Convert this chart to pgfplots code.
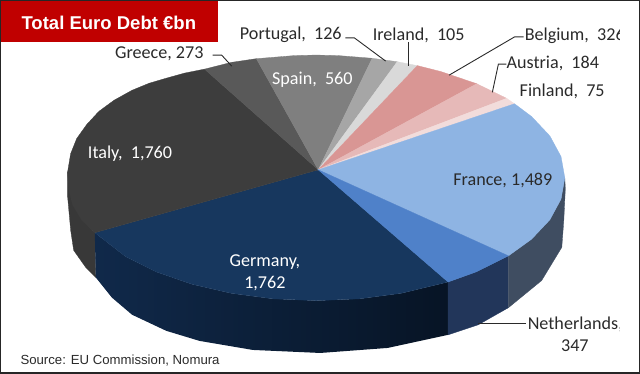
\documentclass[border=0pt]{standalone}
\usepackage{pgfplots}
\pgfplotsset{compat=1.18}
\usepackage{fontspec}
\setmainfont{Carlito}
\newfontfamily\arial{Liberation Sans}
\definecolor{gerT}{HTML}{17375E}
\definecolor{itaT}{HTML}{3D3D3D}
\definecolor{greT}{HTML}{595959}
\definecolor{spaT}{HTML}{7F7F7F}
\definecolor{porT}{HTML}{A6A6A6}
\definecolor{ireT}{HTML}{D9D9D9}
\definecolor{belT}{HTML}{D99694}
\definecolor{ausT}{HTML}{E6B9B8}
\definecolor{finT}{HTML}{F2DCDB}
\definecolor{fraT}{HTML}{8EB4E3}
\definecolor{netT}{HTML}{4F81C9}
\definecolor{itaS}{HTML}{383838}
\definecolor{gerS}{HTML}{10294A}
\definecolor{gerS2}{HTML}{071425}
\definecolor{netS}{HTML}{22365A}
\definecolor{fraS}{HTML}{3F4D61}
\definecolor{ttl}{HTML}{C00000}
\definecolor{txt}{HTML}{2A2A2A}
\tikzset{
  sl/.style={fill=#1,draw=#1,line width=0.3pt,mark=none},
  lead/.style={draw=txt,line width=0.9pt,mark=none},
  lab/.style={anchor=west,inner sep=0pt,text=txt,font=\fontsize{18}{20}\selectfont},
  wlab/.style={anchor=west,inner sep=0pt,text=white,font=\fontsize{18}{20}\selectfont},
}
\begin{document}
\begin{tikzpicture}
\begin{axis}[hide axis,scale only axis,width=640pt,height=376pt,
  xmin=0,xmax=640,ymin=0,ymax=376,y dir=reverse,clip=false]
% sides
\addplot[sl=itaS] coordinates {(69,173)(72.8,200)(83.9,220.7)(96,233.5)(97,278)(87,268)(75,251)(72,231)(69,198)} --cycle;
\addplot[mark=none,draw=none,left color=gerS,right color=gerS2] coordinates {(96,233.5)(126.8,257.4)(157.2,272.5)(192.5,284.7)(231.5,293.7)(273,299.2)(316,301)(359,299.2)(400.5,293.7)(447,282.5)(447,335)(387,348)(320,353)(253,350)(200,341)(167,331)(133,315)(113,298)(97,278)} --cycle;
\addplot[sl=netS] coordinates {(447,282.5)(474.8,272.5)(507,256.5)(507,308)(477,325)(447,335)} --cycle;
\addplot[sl=fraS] coordinates {(507,256.5)(529.9,240)(548.1,220.7)(559.2,200.2)(563,179)(563.5,190)(562,221)(560,248)(540,281)(507,308)} --cycle;
% top faces
\addplot[sl=gerT] coordinates {(318,171)(96,233.5)(126.8,257.4)(157.2,272.5)(192.5,284.7)(231.5,293.7)(273,299.2)(316,301)(359,299.2)(400.5,293.7)(447,282.5)} --cycle;
\addplot[sl=itaT] coordinates {(318,171)(205,71)(185,75)(167,80)(150,85)(133,92)(115,102)(100,113)(88,126)(78,140)(72,155)(69,173)(70,190)(74,206)(83,221)(96,233.5)} --cycle;
\addplot[sl=greT] coordinates {(318,171)(256.5,60.6)(231.5,64.3)(205,71)} --cycle;
\addplot[sl=spaT] coordinates {(318,171)(371.6,60.2)(337.5,57.5)(316,57)(294.5,57.5)(256.5,60.6)} --cycle;
\addplot[sl=porT] coordinates {(318,171)(396.5,63.6)(371.6,60.2)} --cycle;
\addplot[sl=ireT] coordinates {(318,171)(416.5,67.5)(396.5,63.6)} --cycle;
\addplot[sl=belT] coordinates {(318,171)(475.5,85.5)(439.5,73.3)(416.5,67.5)} --cycle;
\addplot[sl=ausT] coordinates {(318,171)(505.2,100)(475.5,85.5)} --cycle;
\addplot[sl=finT] coordinates {(318,171)(513,105.4)(505.2,100)} --cycle;
\addplot[sl=fraT] coordinates {(318,171)(507,256.5)(529.9,240)(548.1,220.7)(559.2,200.2)(563,179)(559.2,157.8)(548.1,137.3)(529.9,118)(513,105.4)} --cycle;
\addplot[sl=netT] coordinates {(318,171)(447,282.5)(474.8,272.5)(507,256.5)} --cycle;
% leader lines
\addplot[lead] coordinates {(213,57)(222,57)(232,68)};
\addplot[lead] coordinates {(345,40)(354,40)(385,63)};
\addplot[lead] coordinates {(408,44)(408,68)};
\addplot[lead] coordinates {(522,39)(513,39)(448,77)};
\addplot[lead] coordinates {(505,66)(497,66)(491,94)};
\addplot[lead] coordinates {(524,324)(477,324)};
% labels
\node[lab] at (axis cs:116,56) {Greece, 273};
\node[lab] at (axis cs:240,37) {Portugal,\ \ 126};
\node[lab] at (axis cs:372,37) {Ireland,\ \ 105};
\node[lab] at (axis cs:523,38) {Belgium,\ \ 326};
\node[lab] at (axis cs:505,65) {Austria,\ \ 184};
\node[lab] at (axis cs:518,93) {Finland,\ \ 75};
\node[lab] at (axis cs:452,182) {France, 1,489};
\node[lab] at (axis cs:526,325) {Netherlands,};
\node[lab,anchor=center] at (axis cs:573,346) {347};
\node[wlab,anchor=center] at (axis cs:265,263) {Germany,};
\node[wlab,anchor=center] at (axis cs:265,284) {1,762};
\node[wlab] at (axis cs:89,155) {Italy,\ \ 1,760};
\node[wlab] at (axis cs:272,82) {Spain,\ \ 560};
\node[inner sep=0pt,anchor=west,text=txt,font=\arial\fontsize{13.1}{15}\selectfont] at (axis cs:22,361) {Source: EU Commission, Nomura};
% clip strip for the cut-off labels
\addplot[sl=white] coordinates {(618,20)(636,20)(636,340)(618,340)} --cycle;
% title band and frame
\addplot[sl=ttl] coordinates {(2,3)(218,3)(218,43)(2,43)} --cycle;
\node[inner sep=0pt,anchor=west,text=white,font=\arial\bfseries\fontsize{18.4}{20}\selectfont] at (axis cs:23,25) {Total Euro Debt €bn};
\addplot[draw=black!85,line width=1.4pt,mark=none] coordinates {(2.5,3)(637,3)(637,373)(2.5,373)} --cycle;
\end{axis}
\end{tikzpicture}
\end{document}
